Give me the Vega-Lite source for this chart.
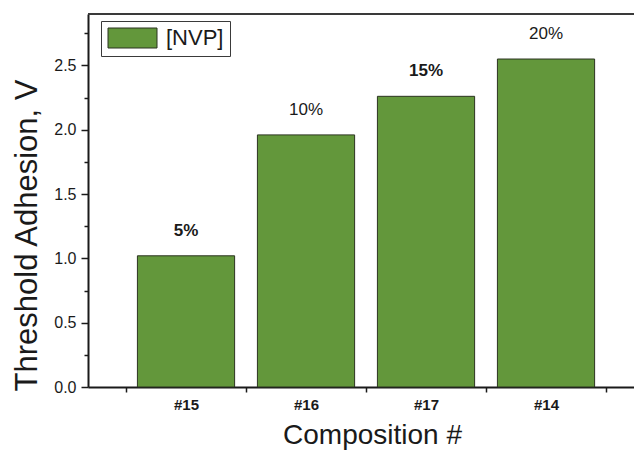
{
  "$schema": "https://vega.github.io/schema/vega-lite/v6.json",
  "width": 546,
  "height": 373,
  "autosize": {"type": "none"},
  "padding": {"left": 88, "top": 14, "right": 0, "bottom": 66},
  "background": "white",
  "config": {
    "view": {"stroke": null},
    "font": "Liberation Sans",
    "axis": {"labelFont": "Liberation Sans", "titleFont": "Liberation Sans", "titleFontWeight": "normal", "domainColor": "#1a1a1a", "tickColor": "#1a1a1a", "labelColor": "#1a1a1a", "titleColor": "#1a1a1a"}
  },
  "data": {
    "values": [
      {"composition": "#15", "adhesion": 1.02, "nvp": "5%", "series": "[NVP]"},
      {"composition": "#16", "adhesion": 1.96, "nvp": "10%", "series": "[NVP]"},
      {"composition": "#17", "adhesion": 2.26, "nvp": "15%", "series": "[NVP]"},
      {"composition": "#14", "adhesion": 2.55, "nvp": "20%", "series": "[NVP]"}
    ]
  },
  "encoding": {
    "x": {
      "field": "composition",
      "type": "nominal",
      "sort": null,
      "scale": {"paddingInner": 0, "paddingOuter": 0.275, "align": 0.576},
      "axis": {
        "title": "Composition #",
        "titleFontSize": 28,
        "titleX": 284,
        "titleY": 56,
        "titleBaseline": "alphabetic",
        "titleAlign": "center",
        "labelAngle": 0,
        "labelFontSize": 15,
        "labelFontWeight": "bold",
        "labelPadding": 5,
        "tickBand": "extent",
        "tickSize": 5,
        "tickWidth": 1.5,
        "domainWidth": 2
      }
    },
    "y": {
      "field": "adhesion",
      "type": "quantitative",
      "scale": {"domain": [0, 2.9], "nice": false},
      "axis": {
        "title": "Threshold Adhesion, V",
        "titleFontSize": 31,
        "titleAngle": 270,
        "titleAlign": "center",
        "titleBaseline": "bottom",
        "titleX": -45,
        "titleY": 221,
        "values": [0, 0.25, 0.5, 0.75, 1, 1.25, 1.5, 1.75, 2, 2.25, 2.5, 2.75],
        "labelExpr": "(datum.value * 2) % 1 === 0 ? format(datum.value, '.1f') : ''",
        "labelFontSize": 16,
        "labelPadding": 5,
        "tickSize": {"condition": {"test": "(datum.value * 2) % 1 === 0", "value": 7}, "value": 4},
        "tickWidth": 1.5,
        "domainWidth": 2,
        "grid": false
      }
    }
  },
  "layer": [
    {
      "mark": {"type": "bar", "width": {"band": 0.81}, "stroke": "#2b3320", "strokeWidth": 1},
      "encoding": {
        "color": {
          "field": "series",
          "type": "nominal",
          "scale": {"range": ["#63973b"]},
          "legend": {
            "title": null,
            "orient": "none",
            "legendX": 13,
            "legendY": 7,
            "padding": 6,
            "fillColor": "white",
            "strokeColor": "#3a3a3a",
            "symbolType": "M-1,-1H3.9V1H-1Z",
            "symbolSize": 400,
            "symbolStrokeColor": "#2b3320",
            "symbolStrokeWidth": 1,
            "symbolOpacity": 1,
            "labelFont": "Liberation Sans",
            "labelFontSize": 22,
            "labelColor": "#1a1a1a",
            "labelOffset": 37
          }
        }
      }
    },
    {
      "transform": [{"filter": "datum.nvp === '5%' || datum.nvp === '15%'"}],
      "mark": {"type": "text", "baseline": "bottom", "dy": -16, "fontSize": 17, "fontWeight": "bold", "color": "#1a1a1a"},
      "encoding": {"text": {"field": "nvp"}}
    },
    {
      "transform": [{"filter": "datum.nvp === '10%' || datum.nvp === '20%'"}],
      "mark": {"type": "text", "baseline": "bottom", "dy": -16, "fontSize": 17, "color": "#1a1a1a"},
      "encoding": {"text": {"field": "nvp"}}
    },
    {
      "mark": {"type": "rule", "color": "#3a3a3a", "strokeWidth": 1.5},
      "encoding": {"y": {"datum": 2.9, "type": "quantitative"}, "x": {"value": 0}, "x2": {"value": 546}}
    }
  ]
}
